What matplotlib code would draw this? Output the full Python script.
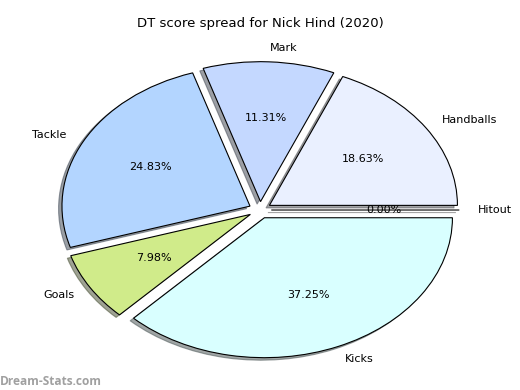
import matplotlib
matplotlib.use("Agg")
import matplotlib.pyplot as plt

labels = ["Handballs", "Mark", "Tackle", "Goals", "Kicks", "Hitout"]
scores = [168, 102, 224, 72, 336, 0]
colors = ["#eaf0ff", "#c4d8ff", "#b3d5ff", "#d0eb8a", "#d9ffff", "#ffffff"]
title = "DT score spread for Nick Hind (2020)"

fig = plt.figure(figsize=(5.2, 3.9), dpi=100)
ax = fig.add_axes([0.048, 0.013, 0.904, 0.897])

ax.pie(scores, labels=labels, colors=colors, autopct="%.2f%%",
       explode=[0.06] * len(scores),
       shadow={"ox": -0.013, "oy": -0.013, "shade": 0.7},
       startangle=0,
       wedgeprops={"edgecolor": "black", "linewidth": 0.8},
       textprops={"fontsize": 8})
ax.set_aspect("auto")
ax.set_xlim(-1.25, 1.25)
ax.set_ylim(-1.25, 1.25)
ax.set_title(title, fontsize=9.5)

fig.text(0.0, 0.012, "Dream-Stats.com", color="#a0a0a0", fontsize=8.6,
         fontweight="bold", family="Open Sans")

fig.savefig("out.png", dpi=100)
